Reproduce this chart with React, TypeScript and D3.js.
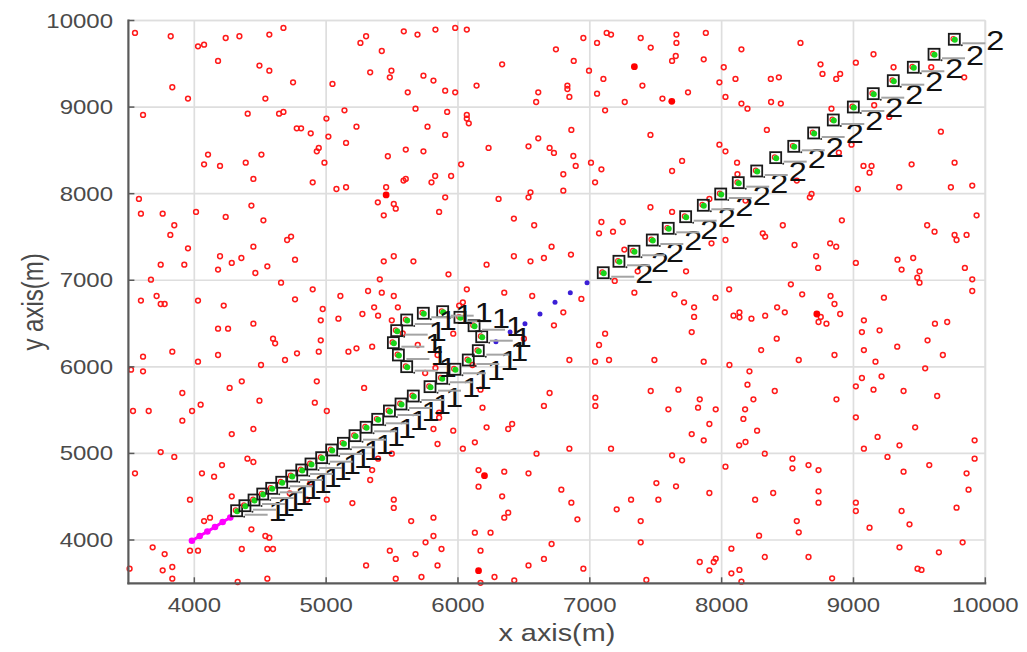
import React from 'react';
import * as d3 from 'd3';

const W = 1027;
const H = 652;

const xTicks = [4000, 5000, 6000, 7000, 8000, 9000, 10000];
const yTicks = [4000, 5000, 6000, 7000, 8000, 9000, 10000];

// Deployed sensor nodes (x, y in metres)
const sensorNodes: [number, number][] = [
  [3550, 9856], [3821, 9818], [4028, 9702], [4074, 9721], [4238, 9798], [4342, 9818], [4569, 9837], [4676, 9914],
  [5260, 9741], [5303, 9818], [5422, 9648], [5589, 9875], [5693, 9837], [5829, 9895], [5979, 9914], [6067, 9895],
  [6743, 9667], [4180, 9533], [4494, 9479], [4569, 9421], [4749, 9286], [5048, 9267], [5334, 9402], [5495, 9421],
  [5483, 9344], [5738, 9363], [5814, 9306], [5619, 9171], [5903, 9190], [5979, 9171], [6141, 9248], [6335, 9494],
  [6609, 9171], [6593, 9059], [3833, 9229], [3952, 9098], [4539, 9098],
  [3611, 8909], [4405, 8924], [4643, 8924], [4676, 8944], [5002, 8867], [5139, 8963], [4777, 8755], [4810, 8755],
  [4883, 8697], [5017, 8659], [5230, 8774], [5678, 8982], [5918, 8944], [6067, 8909], [6067, 8867], [6082, 8813],
  [5769, 8774], [5903, 8678], [6609, 8639], [5151, 8586], [4944, 8528], [4929, 8489], [4987, 8358], [4104, 8451],
  [4074, 8339], [4195, 8320], [4390, 8358], [4509, 8451], [4448, 8170], [4898, 8131], [5078, 8054], [5151, 8074],
  [5468, 8432], [5604, 8509], [5738, 8489], [6232, 8528], [6535, 8547], [6695, 8528], [6728, 8470], [6024, 8339],
  [5827, 8204], [5948, 8204], [5604, 8170], [5587, 8151], [5799, 8131], [5455, 8074], [6550, 8016],
  [3580, 7939], [3595, 7769], [3760, 7769], [3848, 7635], [3818, 7523], [4013, 7789], [4238, 7731], [4433, 7862],
  [4524, 7692], [3952, 7369], [3745, 7180], [3924, 7180], [4195, 7277], [4180, 7123], [4284, 7200], [4357, 7257],
  [4448, 7388], [4463, 7084], [4554, 7161], [4704, 7465], [4734, 7504], [4764, 7238], [5392, 7900], [5513, 7881],
  [5528, 7827], [5437, 7750], [5903, 7958], [5857, 7789], [6308, 7939], [6535, 7958], [6424, 7712], [6578, 7635],
  [6710, 7388], [6424, 7277], [6550, 7219], [6652, 7257], [6217, 7180], [5513, 7277], [5437, 7219], [5662, 7219],
  [5928, 7069], [5407, 7011], [3671, 7007],
  [4658, 6972], [4898, 6895], [5318, 6876], [5422, 6857], [5513, 6818], [5108, 6818], [4764, 6780], [6067, 6895],
  [6351, 6857], [6563, 6818], [3714, 6818], [3595, 6765], [4028, 6765],
  [6951, 9798], [7055, 9741], [7128, 9856], [7161, 9837], [7386, 9798], [7462, 9687], [7657, 9837], [7657, 9741],
  [7880, 9856], [7652, 9590], [7624, 9533], [7864, 9552], [6878, 9533], [6994, 9421], [7103, 9325], [6830, 9248],
  [6830, 9209], [6845, 9117], [7055, 9155], [7265, 9059], [7399, 9248], [7551, 9098], [7745, 9171], [7116, 8963],
  [8150, 9667], [8598, 9741], [8016, 9460], [7983, 9286], [8105, 9325], [8373, 9325], [8434, 9344], [8029, 9117],
  [8150, 9040], [8196, 8982], [8375, 9059], [8449, 9040], [8750, 9494], [8765, 9383], [8899, 9383], [8869, 9325],
  [9152, 9610], [9018, 9513], [9304, 9460], [9590, 9460], [9840, 9344],
  [6860, 8736], [7460, 8678], [6875, 8435], [6893, 8320], [7009, 8358], [7088, 8281], [6799, 8224], [7040, 8131],
  [6799, 8035], [7700, 8378], [7624, 8262], [7983, 8566], [8029, 8489], [8343, 8736], [8117, 8358], [8120, 8224],
  [8833, 8982], [8985, 8566], [9076, 8320], [9137, 8320], [9122, 8243], [9441, 8339], [9663, 8716], [9767, 8358],
  [9347, 8074], [9739, 8074], [9901, 8093], [9033, 8054], [8682, 7997], [8669, 7958], [8570, 8151], [9157, 9021],
  [9271, 8886], [8889, 8474], [8181, 7920], [7907, 7939],
  [7460, 7843], [7624, 7789], [7088, 7673], [7250, 7673], [7070, 7542], [7176, 7561], [6857, 7296], [7262, 7354],
  [7923, 7427], [8029, 7465], [8312, 7542], [8330, 7504], [8464, 7635], [8553, 7407], [8717, 7277], [8732, 7142],
  [8823, 7427], [8869, 7388], [8912, 7692], [9018, 7200], [9559, 7635], [9615, 7561], [9767, 7523], [9782, 7465],
  [9858, 7523], [9934, 7750], [9334, 7238], [9453, 7257], [9365, 7123], [9501, 7103], [9484, 7030], [9845, 7142],
  [9901, 7011], [7730, 7103], [7363, 7103], [7189, 6992],
  [7338, 6857], [7642, 6838], [7953, 6799], [8057, 6895], [8525, 6953], [8611, 6838], [8826, 6818], [9231, 6799],
  [9501, 6972], [9901, 6876], [6936, 6784],
  [3745, 6726], [3775, 6726], [4223, 6707], [4448, 6499], [4180, 6441], [4256, 6441], [4974, 6668], [4959, 6537],
  [5093, 6556], [5275, 6610], [5364, 6687], [5394, 6591], [5544, 6687], [6009, 6707], [6037, 6745], [4597, 6325],
  [4613, 6271], [4959, 6306], [4779, 6156], [4944, 6175], [4688, 6079], [4506, 6021], [4180, 6137], [4028, 6060],
  [3833, 6175], [3611, 6117], [3520, 5967], [3611, 5948], [5169, 6175], [5230, 6214], [5349, 6233], [5498, 6537],
  [5695, 6252], [5964, 6383], [5845, 6137], [6500, 6325], [6728, 6479], [5751, 5929], [5829, 5987], [5581, 6387],
  [6110, 6021],
  [4360, 5833], [4268, 5756], [4929, 5833], [5288, 5756], [3909, 5698], [4048, 5563], [4494, 5609], [4914, 5586],
  [5005, 5490], [3535, 5490], [3654, 5490], [3983, 5490], [3909, 5378], [4284, 5224], [4448, 5282], [3745, 5016],
  [3848, 4959], [3550, 4770], [4058, 4770], [4150, 4731], [4210, 4866], [4403, 4939], [4448, 4901],
  [6171, 5736], [6695, 5698], [6652, 5548], [6186, 5528], [5857, 5471], [5857, 5413], [5814, 5282], [5964, 5263],
  [6217, 5301], [6381, 5282], [6411, 5340], [5845, 5109], [6037, 5055], [6128, 5128], [5498, 4997], [5394, 4939],
  [5349, 4808], [5334, 4693], [6596, 4997], [6156, 4808], [6351, 4789], [6535, 4770], [6156, 4616], [6335, 4504],
  [6381, 4316], [6351, 4258],
  [3967, 4466], [4284, 4504], [4855, 4466], [5005, 4466], [5199, 4427], [5513, 4466], [5513, 4370], [5645, 4219],
  [5814, 4258], [4074, 4219], [4119, 4258], [4433, 4123], [4539, 4046], [4569, 4027], [6128, 4085], [6247, 4085],
  [5814, 4046], [5754, 3973], [3684, 3915], [3775, 3838], [3967, 3877], [4028, 3877], [4360, 3896], [4554, 3896],
  [4597, 3896], [5483, 3877], [5528, 3781], [5678, 3838], [5875, 3896], [6171, 3877], [6710, 3954], [6652, 3781],
  [3509, 3669], [3760, 3650], [3833, 3688], [3833, 3553], [4329, 3515], [4554, 3553], [5303, 3707], [5845, 3707],
  [5528, 3553], [5723, 3573], [6277, 3573], [6427, 3534], [6171, 3505], [6535, 3707], [4724, 4539], [4881, 4662],
  [7715, 6745], [7791, 6687], [6799, 6630], [7791, 6576], [7773, 6402], [7116, 6383], [7070, 6252], [6845, 6079],
  [7040, 6060], [7146, 6079], [7490, 6079], [7864, 6060], [8059, 6021], [8090, 6591], [8135, 6630], [8135, 6572],
  [8226, 6556], [8330, 6591], [8421, 6687], [8479, 6630], [8735, 6518], [8752, 6576], [8795, 6499], [8856, 6726],
  [8899, 6610], [8418, 6325], [8300, 6194], [8585, 6079], [8856, 6137], [9079, 6537], [9064, 6402], [9198, 6422],
  [9079, 6194], [9167, 6060], [9332, 6233], [9562, 6306], [9618, 6499], [9711, 6518], [9678, 6137], [9544, 5983],
  [8211, 5948], [8196, 5794], [8241, 5625], [8403, 5721], [8178, 5509], [8165, 5398], [8269, 5263], [8181, 5132],
  [8133, 5093], [8871, 5625], [7042, 5644], [7042, 5548], [7462, 5721], [7672, 5736], [7834, 5625], [7821, 5528],
  [7955, 5509], [7596, 5509], [7907, 5340], [7773, 5224], [7864, 5151], [6845, 5055], [7161, 5055], [9064, 5871],
  [9213, 5890], [9018, 5775], [9152, 5736], [9380, 5721], [9635, 5663], [9018, 5417], [9468, 5301], [9183, 5190],
  [9349, 5093], [9079, 5055], [9919, 5151],
  [7624, 4978], [7700, 4920], [8327, 4997], [8537, 4939], [8537, 4828], [8659, 4866], [8735, 4808], [8029, 4847],
  [9258, 4959], [9380, 4789], [9575, 4866], [9858, 4770], [9919, 4939], [6784, 4581], [6860, 4431], [6906, 4239],
  [7505, 4658], [7654, 4620], [7907, 4543], [7313, 4466], [7520, 4466], [7204, 4354], [7386, 4219], [8254, 4466],
  [8391, 4543], [8735, 4562], [8735, 4431], [8570, 4219], [8585, 4089], [8284, 4050], [9018, 4431], [9018, 4335],
  [9122, 4142], [9365, 4335], [9425, 4181], [9782, 4373], [9873, 4581], [7386, 3973], [9349, 3915], [9828, 3973],
  [9648, 3858], [6951, 3669], [7429, 3538], [7834, 3746], [7940, 3746], [7955, 3784], [7907, 3650], [8074, 3900],
  [8327, 3804], [8659, 3804], [8074, 3615], [8135, 3654], [8150, 3519], [8838, 3557], [9486, 3669], [9516, 3654],
];

// Nodes currently in active state
const activeNodes: [number, number][] = [
  [5455, 7985], [7338, 9467], [7622, 9067], [6201, 4743], [6156, 3646], [8722, 6610],
];

// Launch segment
const launchPath: [number, number][] = [
  [3982, 3992], [4041, 4046], [4099, 4098], [4157, 4150], [4215, 4208], [4273, 4260],
];

// Track of target 1 (straight run, then a loop)
const track1: [number, number][] = [
  [4321, 4338], [4384, 4396], [4453, 4462], [4519, 4531], [4587, 4597], [4663, 4667], [4739, 4739], [4815, 4809],
  [4885, 4878], [4966, 4951], [5042, 5040], [5131, 5117], [5219, 5205], [5303, 5302], [5391, 5394], [5480, 5490],
  [5568, 5571], [5661, 5663], [5788, 5771], [5877, 5868], [5977, 5972], [6078, 6079], [6154, 6187], [6180, 6348],
  [6122, 6475], [6015, 6572], [5884, 6637], [5737, 6619], [5611, 6541], [5535, 6418], [5510, 6279], [5548, 6137],
  [5611, 6002],
];

// Relay hand-over between the two tracks
const relayPath: [number, number][] = [
  [6288, 6290], [6395, 6403], [6508, 6498], [6622, 6610], [6736, 6746], [6852, 6856], [6979, 6972],
];

// Track of target 2
const track2: [number, number][] = [
  [7102, 7087], [7221, 7219], [7335, 7335], [7474, 7465], [7595, 7600], [7727, 7734], [7861, 7866], [7993, 7996],
  [8126, 8127], [8266, 8262], [8410, 8416], [8547, 8547], [8698, 8701], [8847, 8851], [8999, 9001], [9150, 9155],
  [9302, 9305], [9454, 9460], [9611, 9610], [9765, 9783],
];

const tracks = [
  { id: '1', points: track1 },
  { id: '2', points: track2 },
];

const FONT = '"Liberation Sans", Arial, Helvetica, sans-serif';
const AXIS_TEXT = '#4a4a4a';

export default function App() {
  const x = d3.scaleLinear().domain([3500, 10000]).range([128.4, 985.3]);
  const y = d3.scaleLinear().domain([3500, 10000]).range([583.3, 20.5]);
  const [x0, x1] = x.range();
  const [y0, y1] = y.range();

  const launchLine = d3.line<[number, number]>().x((d) => x(d[0])).y((d) => y(d[1]));

  return (
    <svg
      width={W}
      height={H}
      viewBox={`0 0 ${W} ${H}`}
      style={{ position: 'absolute', left: 0, top: 0, display: 'block', background: '#fff' }}
      fontFamily={FONT}
    >
      {/* grid */}
      <g stroke="#dedede" strokeWidth={1.7}>
        {xTicks.map((t) => (
          <line key={'gx' + t} x1={x(t)} x2={x(t)} y1={y1} y2={y0} />
        ))}
        {yTicks.map((t) => (
          <line key={'gy' + t} x1={x0} x2={x1} y1={y(t)} y2={y(t)} />
        ))}
        <line x1={x0} x2={x1} y1={y1} y2={y1} />
        <line x1={x1} x2={x1} y1={y1} y2={y0} />
      </g>

      {/* sensor nodes */}
      <g fill="none" stroke="#ff1a1a" strokeWidth={1.5}>
        {sensorNodes.map((d, i) => (
          <circle key={'n' + i} cx={x(d[0])} cy={y(d[1])} r={2.4} />
        ))}
      </g>
      <g fill="#ff0000">
        {activeNodes.map((d, i) => (
          <circle key={'a' + i} cx={x(d[0])} cy={y(d[1])} r={3.4} />
        ))}
      </g>

      {/* launch segment */}
      <path d={launchLine(launchPath) || ''} fill="none" stroke="#ff00ff" strokeWidth={3} />
      <g fill="#ff00ff">
        {launchPath.map((d, i) => (
          <circle key={'m' + i} cx={x(d[0])} cy={y(d[1])} r={3.3} />
        ))}
      </g>

      {/* relay */}
      <g fill="#3b1fd6">
        {relayPath.map((d, i) => (
          <circle key={'b' + i} cx={x(d[0])} cy={y(d[1])} r={2.5} />
        ))}
      </g>

      {/* track markers */}
      {tracks.map((tr) => (
        <g key={'t' + tr.id}>
          {tr.points.map((d, i) => {
            const cx = x(d[0]);
            const cy = y(d[1]);
            return (
              <g key={i}>
                <circle cx={cx - 1} cy={cy - 0.5} r={2.3} fill="none" stroke="#ff2020" strokeWidth={1.2} />
                <circle cx={cx + 0.5} cy={cy + 0.5} r={3} fill="#19d419" />
                <rect x={cx - 5.5} y={cy - 5.5} width={11} height={11} fill="none" stroke="#1a1a1a" strokeWidth={1.8} />
              </g>
            );
          })}
        </g>
      ))}

      {/* track labels with leaders */}
      {tracks.map((tr) => (
        <g key={'l' + tr.id}>
          {tr.points.map((d, i) => {
            const cx = x(d[0]);
            const cy = y(d[1]);
            return (
              <g key={i}>
                <line x1={cx + 8} x2={cx + 31} y1={cy + 4} y2={cy + 4} stroke="#a4a4a4" strokeWidth={2} />
                <circle cx={cx + 7.5} cy={cy + 6} r={1} fill="#333" />
                <text
                  transform={`translate(${cx + 41},${cy + 10.5}) scale(1.2,1)`}
                  textAnchor="middle"
                  fontSize={27}
                  fill="#111"
                >
                  {tr.id}
                </text>
              </g>
            );
          })}
        </g>
      ))}

      {/* axes */}
      <g stroke="#5a5a5a" strokeWidth={2.2} fill="none">
        <line x1={x0} x2={x0} y1={y1 - 1} y2={y0 + 1} />
        <line x1={x0 - 1} x2={x1 + 1} y1={y0} y2={y0} />
      </g>
      <g stroke="#5a5a5a" strokeWidth={1.5}>
        {xTicks.map((t) => (
          <line key={'tx' + t} x1={x(t)} x2={x(t)} y1={y0} y2={y0 - 6} />
        ))}
        {yTicks.map((t) => (
          <line key={'ty' + t} x1={x0} x2={x0 + 6} y1={y(t)} y2={y(t)} />
        ))}
      </g>

      {/* tick labels */}
      <g fill={AXIS_TEXT} fontSize={20}>
        {xTicks.map((t) => (
          <text key={'lx' + t} transform={`translate(${x(t)},612) scale(1.2,1)`} textAnchor="middle">
            {t}
          </text>
        ))}
        {yTicks.map((t) => (
          <text key={'ly' + t} transform={`translate(113,${y(t) + 7}) scale(1.2,1)`} textAnchor="end">
            {t}
          </text>
        ))}
      </g>

      {/* axis titles */}
      <text
        transform={`translate(${(x0 + x1) / 2},641) scale(1.2,1)`}
        textAnchor="middle"
        fontSize={24}
        fill={AXIS_TEXT}
      >
        x axis(m)
      </text>
      <text
        transform={`translate(43,${(y0 + y1) / 2}) rotate(-90) scale(1,1.2)`}
        textAnchor="middle"
        fontSize={24}
        fill={AXIS_TEXT}
      >
        y axis(m)
      </text>
    </svg>
  );
}
